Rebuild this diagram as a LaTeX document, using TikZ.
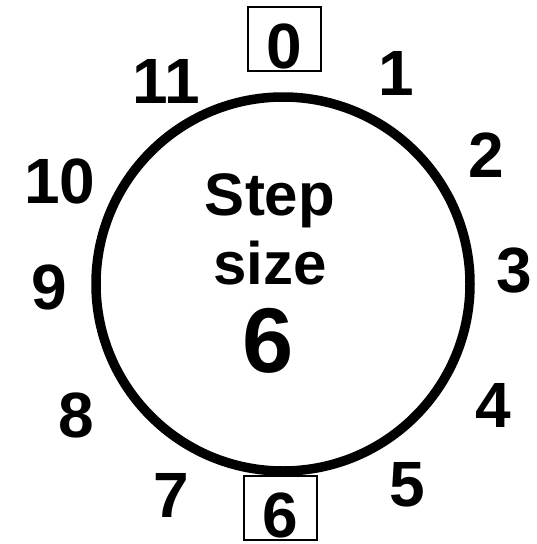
\documentclass[tikz,border=0pt]{standalone}
\usepackage{fontspec}
\setmainfont{Liberation Sans}
\usepackage{tikz}
\usetikzlibrary{positioning}
\newcommand{\numfont}{\bfseries\fontsize{64}{64}\selectfont}
\newcommand{\capfont}{\bfseries\fontsize{60}{60}\selectfont}
\newcommand{\bigfont}{\bfseries\fontsize{92}{92}\selectfont}

\begin{document}
\begin{tikzpicture}[x=1pt,y=-1pt,
  num/.style={font=\numfont,inner sep=0pt,anchor=base},
  numbox/.style={draw,line width=2pt,font=\numfont,minimum width=73pt,text height=58pt,text depth=0pt,inner ysep=3pt,inner xsep=0pt,outer sep=0pt,anchor=south},
  captxt/.style={font=\capfont,inner sep=0pt,anchor=base},
  ring/.style={line width=9.5pt}
]
\useasboundingbox (0,0) rectangle (537,544);
\draw[ring] (283,284) circle[radius=187];
% clock positions
\node[numbox] (n0) at (284,71) {0};
\node[num] (n1) at (396,95) {1};
\node[num] (n2) at (486.5,177) {2};
\node[num] (n3) at (514,292) {3};
\node[num] (n4) at (493,427) {4};
\node[num] (n5) at (407,506) {5};
\node[numbox] (n6) at (280,540) {6};
\node[num] (n7) at (171,517) {7};
\node[num] (n8) at (76.5,437) {8};
\node[num] (n9) at (49,309) {9};
\node[num] (n10) at (60,203) {10};
\node[num] (n11) at (166,103) {11};
% centre text
\node[captxt] (step) at (270,215) {Step};
\node[captxt] (size) at (270,284) {size};
\node[captxt,font=\bigfont] (stepval) at (268,372) {6};
\end{tikzpicture}
\end{document}
